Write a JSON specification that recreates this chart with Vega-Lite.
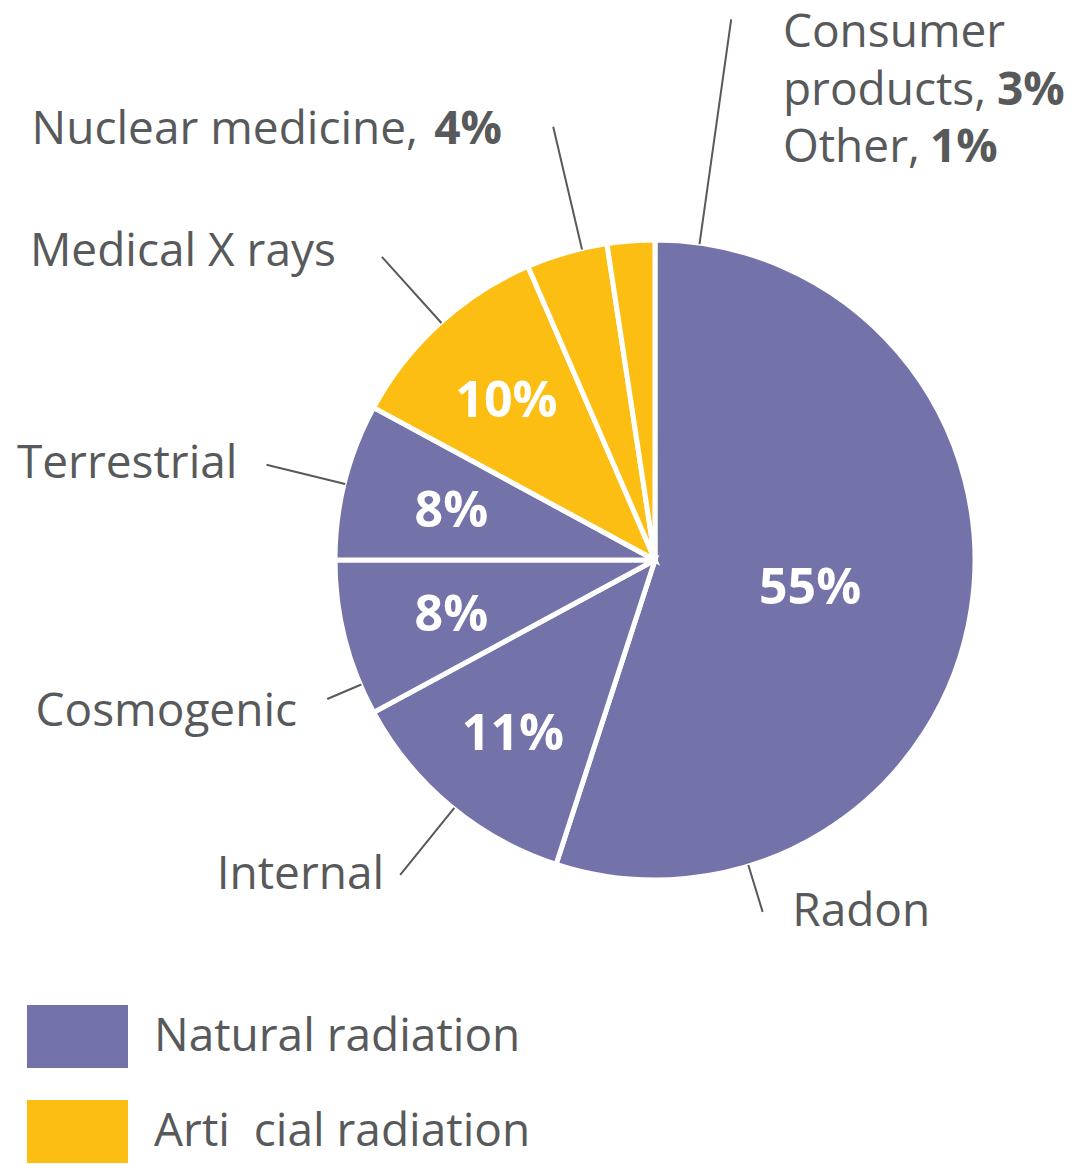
{
  "$schema": "https://vega.github.io/schema/vega-lite/v6.json",
  "autosize": "none",
  "width": 868,
  "height": 1120,
  "padding": {"left": 221, "top": 0, "right": 0, "bottom": 44},
  "background": "white",
  "config": {"font": "Open Sans", "view": {"stroke": null}},
  "data": {
    "values": [
      {"name": "Radon", "type": "Natural radiation", "share": 55, "inside": "55%", "label": "Radon", "boldA": "", "boldB": ""},
      {"name": "Internal", "type": "Natural radiation", "share": 12.1, "inside": "11%", "label": "Internal", "boldA": "", "boldB": ""},
      {"name": "Cosmogenic", "type": "Natural radiation", "share": 7.9, "inside": "8%", "label": "Cosmogenic", "boldA": "", "boldB": ""},
      {"name": "Terrestrial", "type": "Natural radiation", "share": 7.9, "inside": "8%", "label": "Terrestrial", "boldA": "", "boldB": ""},
      {"name": "Medical X rays", "type": "Arti\u00a0\u00a0cial radiation", "share": 10.6, "inside": "10%", "label": "Medical X rays", "boldA": "", "boldB": ""},
      {"name": "Nuclear medicine", "type": "Arti\u00a0\u00a0cial radiation", "share": 4.1, "inside": "", "label": "Nuclear medicine,", "boldA": "4%", "boldB": ""},
      {"name": "Consumer products", "type": "Arti\u00a0\u00a0cial radiation", "share": 2.4, "inside": "", "label": "Consumer\nproducts,\nOther,", "boldA": "3%", "boldB": "1%"}
    ]
  },
  "transform": [{"window": [{"op": "row_number", "as": "idx"}, {"op": "sum", "field": "share", "as": "cum"}]}],
  "encoding": {
    "theta": {"field": "share", "type": "quantitative", "stack": true},
    "order": {"field": "idx", "type": "quantitative"}
  },
  "layer": [
    {
      "mark": {"type": "arc", "outerRadius": 320, "stroke": "white", "strokeWidth": 5},
      "encoding": {
        "color": {
          "field": "type",
          "type": "nominal",
          "scale": {"domain": ["Natural radiation", "Arti\u00a0\u00a0cial radiation"], "range": ["#7373a9", "#fdbe14"]},
          "legend": {
            "title": null,
            "orient": "none",
            "legendX": -194,
            "legendY": 986,
            "symbolType": "M-1,-0.624H1V0.624H-1Z",
            "symbolSize": 10201,
            "symbolStrokeWidth": 0,
            "symbolOpacity": 1,
            "labelFont": "Open Sans",
            "labelFontSize": 46,
            "labelColor": "#58595b",
            "labelOffset": 26,
            "labelLimit": 700,
            "rowPadding": 12
          }
        }
      }
    },
    {
      "mark": {
        "type": "arc",
        "fill": "transparent",
        "stroke": "#58595b",
        "strokeWidth": 2,
        "innerRadius": 319,
        "outerRadius": {"expr": "({'Radon': 368, 'Internal': 405, 'Cosmogenic': 356, 'Terrestrial': 400, 'Medical X rays': 408, 'Nuclear medicine': 445, 'Consumer products': 546})[datum.name]"},
        "thetaOffset": {"expr": "({'Radon': -0.611, 'Internal': -0.394, 'Cosmogenic': -0.401, 'Terrestrial': -0.256, 'Medical X rays': -0.325, 'Nuclear medicine': -0.080, 'Consumer products': 0.140})[datum.name]"},
        "theta2Offset": {"expr": "({'Radon': -0.611, 'Internal': -0.394, 'Cosmogenic': -0.401, 'Terrestrial': -0.256, 'Medical X rays': -0.325, 'Nuclear medicine': -0.080, 'Consumer products': 0.140})[datum.name]"}
      },
      "encoding": {
        "theta": {"field": "cum", "type": "quantitative", "stack": null},
        "theta2": {"field": "cum"}
      }
    },
    {
      "mark": {
        "type": "text",
        "font": "Open Sans",
        "fontWeight": "bold",
        "fontSize": 50,
        "fill": "white",
        "align": "center",
        "baseline": "middle",
        "dy": 4,
        "radius": {"expr": "({'Radon': 157, 'Internal': 222, 'Cosmogenic': 210, 'Terrestrial': 210, 'Medical X rays': 220, 'Nuclear medicine': 200, 'Consumer products': 200})[datum.name]"}
      },
      "encoding": {"text": {"field": "inside", "type": "nominal"}}
    },
    {
      "mark": {
        "type": "text",
        "font": "Open Sans",
        "fontSize": 46,
        "fill": "#58595b",
        "baseline": "middle",
        "lineBreak": "\n",
        "lineHeight": 57.5,
        "align": {"expr": "(datum.name === 'Radon' || datum.name === 'Consumer products') ? 'left' : 'right'"},
        "dx": {"expr": "datum.name === 'Nuclear medicine' ? -84 : 0"},
        "dy": {"expr": "datum.name === 'Consumer products' ? -52.5 : 2"},
        "radius": {"expr": "({'Radon': 376, 'Internal': 414, 'Cosmogenic': 388, 'Terrestrial': 429, 'Medical X rays': 445, 'Nuclear medicine': 458, 'Consumer products': 491})[datum.name]"},
        "thetaOffset": {"expr": "({'Radon': 1.040, 'Internal': 0.019, 'Cosmogenic': -0.148, 'Terrestrial': -0.017, 'Medical X rays': -0.058, 'Nuclear medicine': -0.061, 'Consumer products': 0.339})[datum.name]"}
      },
      "encoding": {"text": {"field": "label", "type": "nominal"}}
    },
    {
      "mark": {
        "type": "text",
        "font": "Open Sans",
        "fontWeight": "bold",
        "fontSize": 46,
        "fill": "#58595b",
        "baseline": "middle",
        "dy": {"expr": "datum.name === 'Consumer products' ? 5 : 2"},
        "align": {"expr": "datum.name === 'Consumer products' ? 'left' : 'right'"},
        "dx": {"expr": "datum.name === 'Consumer products' ? 214 : 0"},
        "radius": {"expr": "({'Radon': 376, 'Internal': 414, 'Cosmogenic': 388, 'Terrestrial': 429, 'Medical X rays': 445, 'Nuclear medicine': 458, 'Consumer products': 491})[datum.name]"},
        "thetaOffset": {"expr": "({'Radon': 1.040, 'Internal': 0.019, 'Cosmogenic': -0.148, 'Terrestrial': -0.017, 'Medical X rays': -0.058, 'Nuclear medicine': -0.061, 'Consumer products': 0.339})[datum.name]"}
      },
      "encoding": {"text": {"field": "boldA", "type": "nominal"}}
    },
    {
      "mark": {
        "type": "text",
        "font": "Open Sans",
        "fontWeight": "bold",
        "fontSize": 46,
        "fill": "#58595b",
        "baseline": "middle",
        "align": "left",
        "dx": 147,
        "dy": 62.5,
        "radius": {"expr": "({'Radon': 376, 'Internal': 414, 'Cosmogenic': 388, 'Terrestrial': 429, 'Medical X rays': 445, 'Nuclear medicine': 458, 'Consumer products': 491})[datum.name]"},
        "thetaOffset": {"expr": "({'Radon': 1.040, 'Internal': 0.019, 'Cosmogenic': -0.148, 'Terrestrial': -0.017, 'Medical X rays': -0.058, 'Nuclear medicine': -0.061, 'Consumer products': 0.339})[datum.name]"}
      },
      "encoding": {"text": {"field": "boldB", "type": "nominal"}}
    }
  ]
}
